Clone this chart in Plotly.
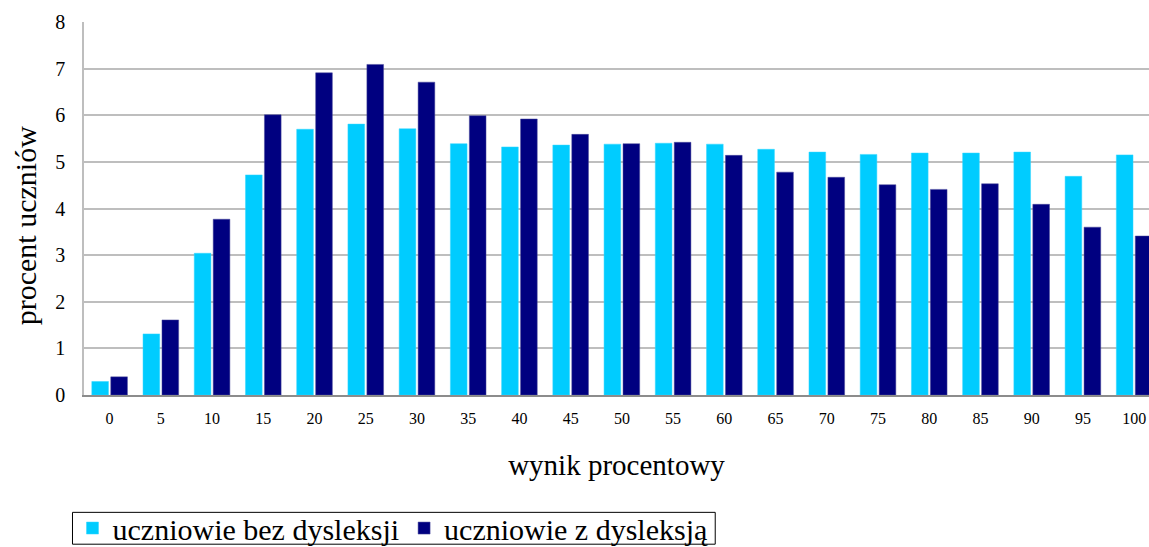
import plotly.graph_objects as go

CATEGORIES = ["0", "5", "10", "15", "20", "25", "30", "35", "40", "45", "50",
              "55", "60", "65", "70", "75", "80", "85", "90", "95", "100"]
BEZ_DYSLEKSJI = [0.29, 1.31, 3.04, 4.72, 5.70, 5.81, 5.71, 5.39, 5.32, 5.36, 5.38,
                 5.40, 5.38, 5.27, 5.21, 5.16, 5.19, 5.19, 5.21, 4.69, 5.15]
Z_DYSLEKSJA = [0.39, 1.61, 3.77, 6.01, 6.91, 7.09, 6.71, 5.99, 5.92, 5.59, 5.39,
               5.42, 5.14, 4.78, 4.67, 4.51, 4.41, 4.53, 4.09, 3.60, 3.41]

FONT = "Liberation Serif, Times New Roman, serif"

fig = go.Figure()
fig.add_trace(go.Bar(
    x=CATEGORIES, y=BEZ_DYSLEKSJI, name="uczniowie bez dysleksji",
    marker=dict(color="#00CCFF", line=dict(color="#33D6FF", width=0.5)),
))
fig.add_trace(go.Bar(
    x=CATEGORIES, y=Z_DYSLEKSJA, name="uczniowie z dysleksją",
    marker=dict(color="#000080", line=dict(color="#4B4B9A", width=0.5)),
))

fig.update_xaxes(
    type="category", range=[-0.5, 20.29], automargin=False,
    showline=True, linecolor="#8C8C8C", linewidth=1.5,
    tickfont=dict(size=16, color="black"), ticks="", ticklabelstandoff=8,
    title=dict(text="wynik procentowy", font=dict(size=29, color="black"), standoff=29),
)
fig.update_yaxes(
    range=[0, 8], dtick=1, showgrid=True, gridcolor="#BEBEBE", gridwidth=1.5,
    showline=True, linecolor="#BEBEBE", linewidth=1.5, zeroline=False,
    automargin=False,
    tickfont=dict(size=20, color="black"), ticks="", ticklabelstandoff=13,
)

# y title sits a bit below the plot's middle in the original, so place it by hand
fig.add_annotation(text="procent uczniów", textangle=-90, showarrow=False,
                   xref="paper", yref="paper", x=-0.0549, y=0.4538,
                   xanchor="center", yanchor="middle",
                   font=dict(size=30, color="black"))

# legend frame drawn as a shape so it can run off the bottom edge like the original
fig.add_shape(type="rect", xref="paper", yref="paper",
              x0=-0.0108, x1=0.5927, y0=-0.3146, y1=-0.40,
              line=dict(color="black", width=1), fillcolor="rgba(0,0,0,0)")

fig.update_layout(
    width=1149, height=547,
    margin=dict(l=83.5, r=0, t=22, b=151.5, autoexpand=False),
    plot_bgcolor="white", paper_bgcolor="white",
    font=dict(family=FONT, color="black"),
    barmode="group", bargap=0.26, bargroupgap=0.12,
    showlegend=True,
    legend=dict(orientation="h", x=-0.0108, xanchor="left", y=-0.287, yanchor="top",
                font=dict(size=30), borderwidth=0, bgcolor="rgba(0,0,0,0)",
                itemwidth=30, tracegroupgap=0),
)

# drop the default 8px body margin so the figure fills the window exactly
fig.write_html("out.html", config={"displayModeBar": False}, post_script=(
    "document.body.style.margin='0';"
    "document.body.style.overflow='hidden';"
))
